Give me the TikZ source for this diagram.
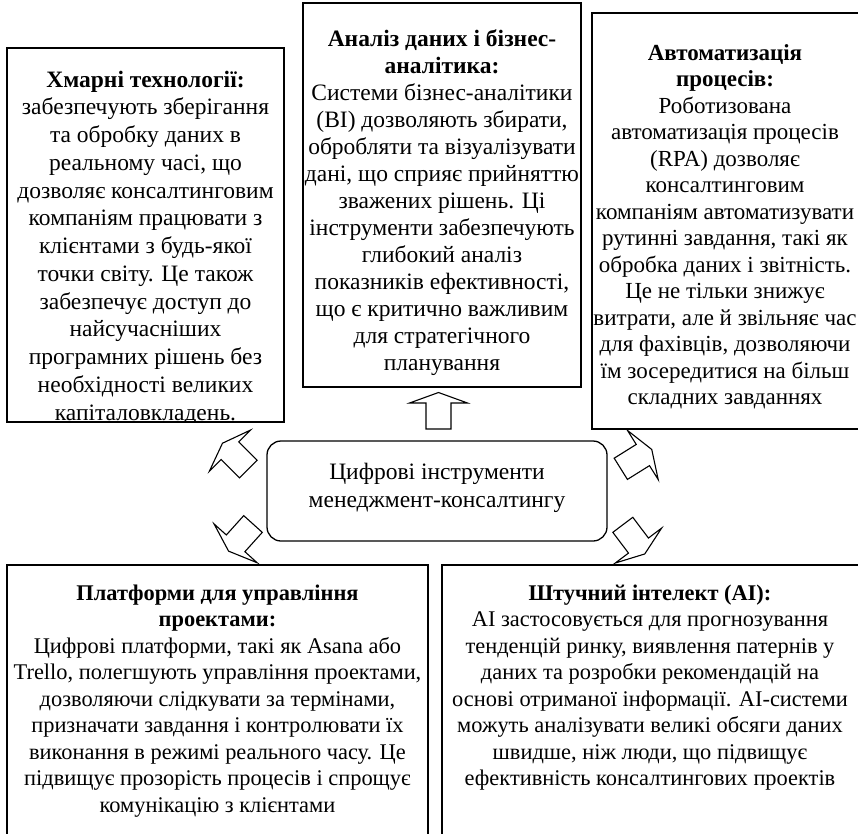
\documentclass[tikz,border=0pt]{standalone}
\usepackage{fontspec}
\setmainfont{Liberation Serif}
\tikzset{
  boxst/.style={draw=black, line width=1.3pt, rectangle, inner sep=0pt},
  hubst/.style={draw=black, line width=1.3pt, rectangle, rounded corners=14pt, inner sep=0pt},
  txtst/.style={anchor=base, inner sep=0pt, font=\fontsize{23.5}{27}\selectfont},
  arrline/.style={draw=black, line width=1.1pt, line join=miter},
  blockarrow/.pic={\draw[arrline] (0,-12.5) -- (26,-12.5) -- (26,-29) -- (36.5,0) -- (26,29) -- (26,12.5) -- (0,12.5) -- cycle;}
}
\newcommand{\btext}[1]{\parbox[t]{440pt}{\centering\lineskiplimit=-100pt\relax #1}}
\begin{document}
\begin{tikzpicture}[x=1pt,y=-1pt]
\useasboundingbox (0,0) rectangle (858,833);
% boxes
\node[boxst, minimum width=277pt, minimum height=374pt] (cloudbox) at (145.5,235) {};
\node[boxst, minimum width=278pt, minimum height=384pt] (bibox) at (442,195) {};
\node[boxst, minimum width=272pt, minimum height=416pt] (rpabox) at (728,221) {};
\node[hubst, minimum width=340pt, minimum height=100pt] (hub) at (437,491) {};
\node[boxst, minimum width=421pt, minimum height=280pt] (pmbox) at (217.5,705) {};
\node[boxst, minimum width=422pt, minimum height=280pt] (aibox) at (653,705) {};
% texts
\begin{scope}
\clip (cloudbox.south west) rectangle (cloudbox.north east);
\node[txtst, font=\fontsize{23.5}{27.75}\selectfont] (cloudtxt) at (145.5,87) {\btext{\textbf{Хмарні технології:}\\
забезпечують зберігання\\
та обробку даних в\\
реальному часі, що\\
дозволяє консалтинговим\\
компаніям працювати з\\
клієнтами з будь-якої\\
точки світу. Це також\\
забезпечує доступ до\\
найсучасніших\\
програмних рішень без\\
необхідності великих\\
капіталовкладень.}};
\end{scope}
\node[txtst] (bitxt) at (442,46) {\btext{\textbf{Аналіз даних і бізнес-}\\
\textbf{аналітика:}\\
Системи бізнес-аналітики\\
(BI) дозволяють збирати,\\
обробляти та візуалізувати\\
дані, що сприяє прийняттю\\
зважених рішень. Ці\\
інструменти забезпечують\\
глибокий аналіз\\
показників ефективності,\\
що є критично важливим\\
для стратегічного\\
планування}};
\node[txtst, font=\fontsize{23}{26.5}\selectfont] (rpatxt) at (725,60) {\btext{\textbf{Автоматизація}\\
\textbf{процесів:}\\
Роботизована\\
автоматизація процесів\\
(RPA) дозволяє\\
консалтинговим\\
компаніям автоматизувати\\
рутинні завдання, такі як\\
обробка даних і звітність.\\
Це не тільки знижує\\
витрати, але й звільняє час\\
для фахівців, дозволяючи\\
їм зосередитися на більш\\
складних завданнях}};
\node[txtst, font=\fontsize{23.5}{28}\selectfont] (hubtxt) at (437,479) {\btext{Цифрові інструменти\\
менеджмент-консалтингу}};
\node[txtst, font=\fontsize{22.4}{26.5}\selectfont] (pmtxt) at (217.5,600) {\btext{\textbf{Платформи для управління}\\
\textbf{проектами:}\\
Цифрові платформи, такі як Asana або\\
Trello, полегшують управління проектами,\\
дозволяючи слідкувати за термінами,\\
призначати завдання і контролювати їх\\
виконання в режимі реального часу. Це\\
підвищує прозорість процесів і спрощує\\
комунікацію з клієнтами}};
\node[txtst, font=\fontsize{22.4}{26.5}\selectfont] (aitxt) at (650,600) {\btext{\textbf{Штучний інтелект (AI):}\\
AI застосовується для прогнозування\\
тенденцій ринку, виявлення патернів у\\
даних та розробки рекомендацій на\\
основі отриманої інформації. AI-системи\\
можуть аналізувати великі обсяги даних\\
швидше, ніж люди, що підвищує\\
ефективність консалтингових проектів}};
% block arrows
\pic[rotate=90] (uparr) at (438.5,429) {blockarrow};
\pic[rotate=135] (tlarr) at (248.3,469) {blockarrow};
\pic[rotate=32] (trarr) at (620.8,468.8) {blockarrow};
\pic[rotate=228] (blarr) at (253,524) {blockarrow};
\pic[rotate=-53] (brarr) at (622.8,524.8) {blockarrow};
\end{tikzpicture}
\end{document}
